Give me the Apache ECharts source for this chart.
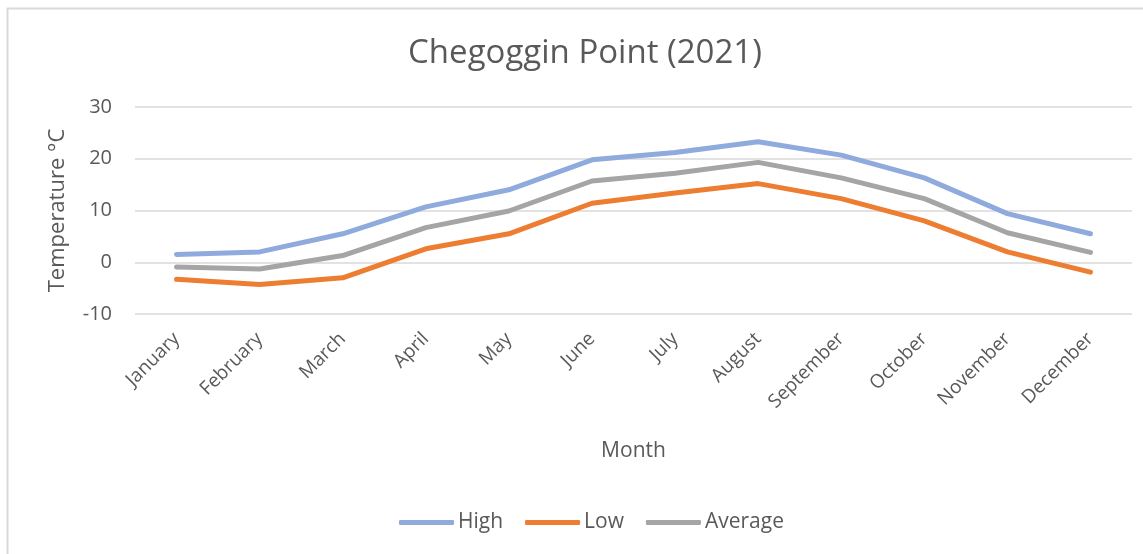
<!DOCTYPE html>
<html>
<head>
<meta charset="utf-8">
<script src="https://cdn.jsdelivr.net/npm/echarts@6/dist/echarts.min.js"></script>
<style>
    html, body { margin: 0; padding: 0; background: #fff; }
    #container { width: 1143px; height: 554px; }
</style>
</head>
<body>
<div id="container"></div>
<script>
// 月份
var months = ['January', 'February', 'March', 'April', 'May', 'June', 'July',
    'August', 'September', 'October', 'November', 'December'];
// 温度数据
var highData = [1.5, 2.0, 5.5, 10.7, 14.0, 19.8, 21.2, 23.3, 20.7, 16.3, 9.4, 5.5];
var lowData = [-3.3, -4.3, -3.0, 2.6, 5.5, 11.4, 13.4, 15.2, 12.3, 8.0, 2.0, -1.9];
var avgData = [-0.9, -1.3, 1.3, 6.7, 9.9, 15.7, 17.2, 19.3, 16.3, 12.3, 5.7, 1.9];

var textColor = '#595959';
var font = "'Open Sans', sans-serif";

function lineSerie(name, data, color) {
    return {
        name: name,
        type: 'line',
        data: data,
        symbol: 'none',
        smooth: false,
        lineStyle: {
            width: 5,
            color: color,
            cap: 'round',
            join: 'round'
        },
        itemStyle: { color: color }
    };
}

var container = echarts.init(document.getElementById('container'));
var option = {
    animation: false,
    textStyle: { fontFamily: font },
    title: {
        text: 'Chegoggin Point (2021)',
        left: 580,
        top: 32,
        textAlign: 'center',
        textStyle: {
            color: textColor,
            fontSize: 33,
            fontWeight: 'normal',
            fontFamily: font
        }
    },
    graphic: [{
        type: 'rect',
        shape: { x: 7.5, y: 8.5, width: 1300, height: 700 },
        style: { fill: 'none', stroke: '#d9d9d9', lineWidth: 2 },
        silent: true
    }],
    legend: {
        bottom: 16,
        left: 394,
        itemWidth: 55,
        itemHeight: 5,
        itemGap: 22,
        icon: 'roundRect',
        textStyle: { color: textColor, fontSize: 21, fontFamily: font, padding: [0, 0, 0, -1] },
        data: ['High', 'Low', 'Average']
    },
    grid: {
        left: 135,
        right: 11,
        top: 107,
        bottom: 240
    },
    xAxis: {
        type: 'category',
        data: months,
        boundaryGap: true,
        name: 'Month',
        nameLocation: 'middle',
        nameGap: 127,
        nameTextStyle: { color: textColor, fontSize: 21, fontFamily: font },
        axisLine: { show: false },
        axisTick: { show: false },
        axisLabel: {
            color: textColor,
            fontSize: 19,
            fontFamily: font,
            rotate: 45,
            interval: 0,
            margin: 22
        }
    },
    yAxis: {
        type: 'value',
        min: -10,
        max: 30,
        interval: 10,
        name: 'Temperature °C',
        nameLocation: 'middle',
        nameGap: 66,
        nameTextStyle: { color: textColor, fontSize: 22, fontFamily: font },
        axisLine: { show: false },
        axisTick: { show: false },
        axisLabel: {
            color: textColor,
            fontSize: 20,
            fontFamily: font,
            margin: 23
        },
        splitLine: {
            show: true,
            lineStyle: { color: '#d9d9d9', width: 1.5 }
        }
    },
    series: [
        lineSerie('High', highData, '#8faadc'),
        lineSerie('Low', lowData, '#ed7d31'),
        lineSerie('Average', avgData, '#a5a5a5')
    ]
};
container.setOption(option, true);
</script>
</body>
</html>
